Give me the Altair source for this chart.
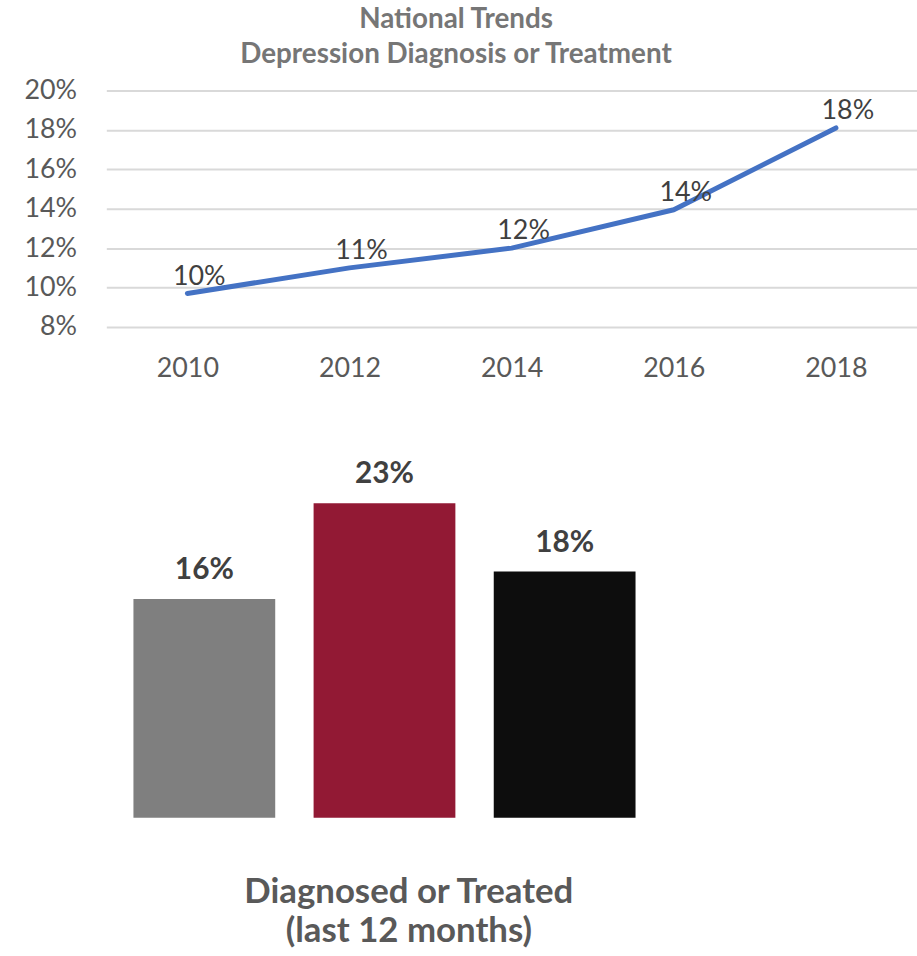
import altair as alt
import pandas as pd

# National trend series (share of adults)
years = ["2010", "2012", "2014", "2016", "2018"]
trend_rates = [0.097, 0.110, 0.120, 0.1395, 0.181]
trend_ticks = [0.08, 0.10, 0.12, 0.14, 0.16, 0.18, 0.20]

# Comparison groups, last 12 months
groups = ["Group 1", "Group 2", "Group 3"]
group_rates = [0.16, 0.23, 0.18]
group_colors = ["#7f7f7f", "#921934", "#0d0d0d"]

title_lines = ["National Trends", "Depression Diagnosis or Treatment"]
bar_title = ["Diagnosed or Treated", "(last 12 months)"]

FONT = "Lato"

trend = pd.DataFrame({"year": years, "rate": trend_rates})
bars = pd.DataFrame({"group": groups, "rate": group_rates})

# ---- top: line chart -------------------------------------------------------
x_year = alt.X(
    "year:O",
    sort=years,
    scale=alt.Scale(type="point", padding=0.5, range=[0, 816]),
    axis=alt.Axis(
        title=None, labelAngle=0, ticks=False, domain=False, grid=False,
        labelFont=FONT, labelFontSize=27, labelColor="#595959", labelPadding=29,
    ),
)
y_rate = alt.Y(
    "rate:Q",
    scale=alt.Scale(domain=[0.08, 0.20], nice=False, zero=False),
    axis=alt.Axis(
        title=None, values=trend_ticks, format=".0%", ticks=False, domain=False,
        gridColor="#d9d9d9", gridWidth=2,
        labelFont=FONT, labelFontSize=27, labelColor="#595959", labelPadding=30,
    ),
)

line = alt.Chart(trend).mark_line(
    color="#4472c4", strokeWidth=5, strokeCap="round", strokeJoin="round"
).encode(x=x_year, y=y_rate)

line_labels = alt.Chart(trend).mark_text(
    font=FONT, fontSize=27, color="#404040", dx=12, dy=-9, baseline="alphabetic"
).encode(x=x_year, y=y_rate, text=alt.Text("rate:Q", format=".0%"))

top = (line + line_labels).properties(
    width=810,
    height=238,
    title=alt.TitleParams(
        text=title_lines, font=FONT, fontSize=28, fontWeight="bold",
        color="#767676", lineHeight=35, anchor="middle", frame="group",
        dx=-53, offset=8,
    ),
)

# ---- bottom: bar chart -----------------------------------------------------
x_group = alt.X(
    "group:N",
    sort=groups,
    scale=alt.Scale(range=[8, 552], paddingInner=0.213, paddingOuter=0.1065),
    axis=alt.Axis(
        labels=False, ticks=False, domain=False, grid=False,
        title=bar_title, titleFont=FONT, titleFontSize=35, titleFontWeight="bold",
        titleColor="#595959", titleLineHeight=40, titlePadding=57, titleX=304,
    ),
)
y_bar = alt.Y("rate:Q", scale=alt.Scale(domain=[0, 0.26], nice=False), axis=None)

bar_marks = alt.Chart(bars).mark_bar().encode(
    x=x_group,
    y=y_bar,
    color=alt.Color("group:N", scale=alt.Scale(domain=groups, range=group_colors), legend=None),
)
bar_labels = alt.Chart(bars).mark_text(
    font=FONT, fontSize=30, fontWeight="bold", color="#404040", dy=-20, baseline="alphabetic"
).encode(x=x_group, y=y_bar, text=alt.Text("rate:Q", format=".0%"))

bottom = (bar_marks + bar_labels).properties(width=606, height=358)

chart = (
    alt.vconcat(top, bottom)
    .properties(padding={"left": 24, "top": 3, "right": 0, "bottom": 0})
    .configure_view(stroke=None)
    .configure_concat(spacing=78)
)

chart.save("out.html", embed_options={"renderer": "svg", "actions": False})
